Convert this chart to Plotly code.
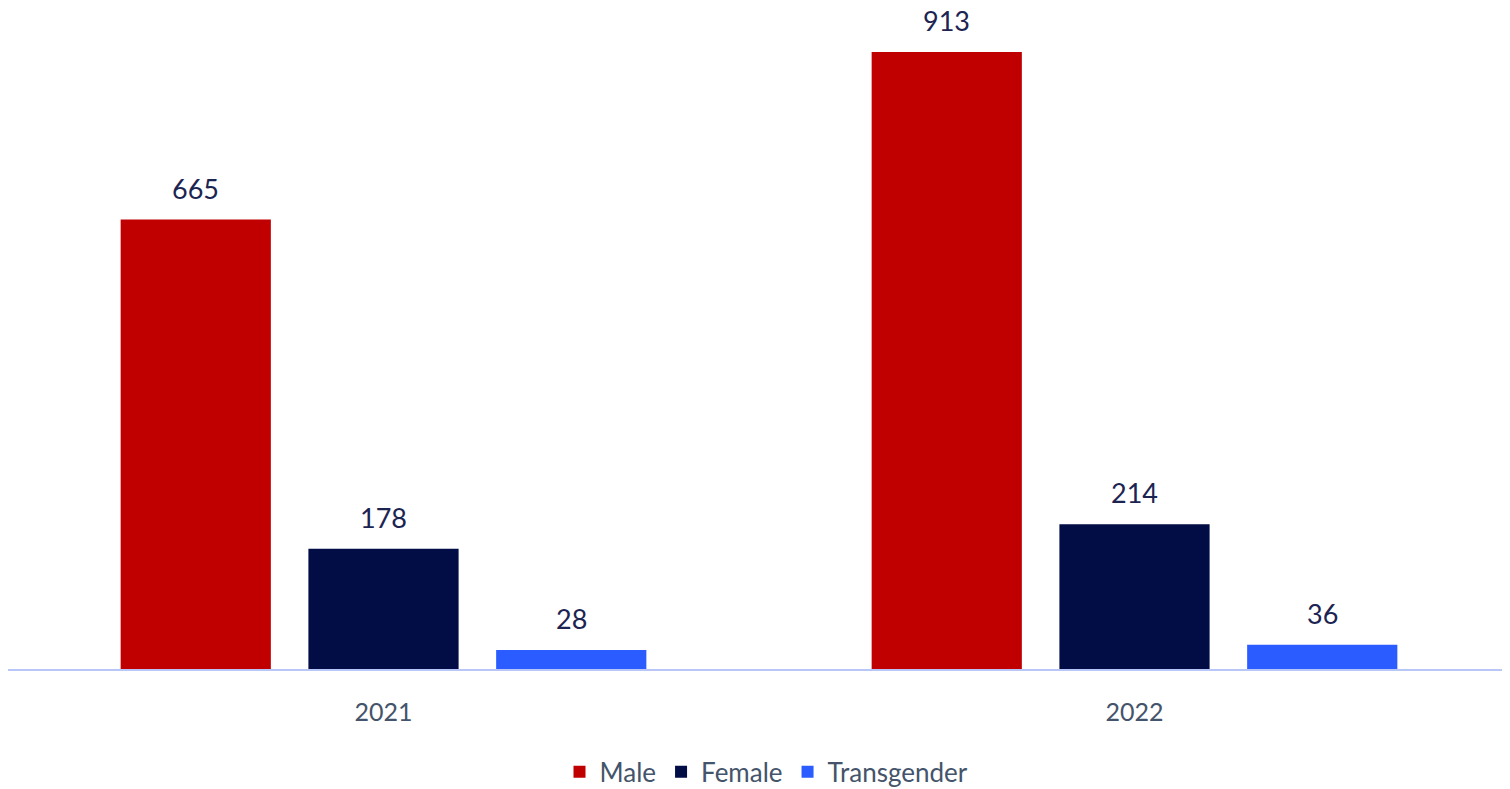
import plotly.graph_objects as go

years = ["2021", "2022"]
series = ["Male", "Female", "Transgender"]
male = [665, 913]
female = [178, 214]
transgender = [28, 36]
colors = ["#c00000", "#020c45", "#2a5cff"]

values = [male, female, transgender]
fig = go.Figure()
for name, vals, col in zip(series, values, colors):
    fig.add_trace(go.Bar(x=years, y=vals, name=name, marker=dict(color=col, line=dict(width=0))))

shifts = [-188, 0, 188]
for vals, sh in zip(values, shifts):
    for idx, v in enumerate(vals):
        fig.add_annotation(x=idx, y=v, text=str(v), showarrow=False, xshift=sh, yshift=13,
                           yanchor="bottom", font=dict(size=27, color="#1c2452", family="Lato"))

fig.update_layout(
    width=1502, height=781,
    margin=dict(l=0, r=0, t=0, b=120, autoexpand=False),
    paper_bgcolor="white", plot_bgcolor="white",
    barmode="group", bargap=0.25, bargroupgap=0.2,
    font=dict(family="Lato", color="#44546a"),
    xaxis=dict(type="category", range=[-0.5, 1.5], autorange=False, showline=True,
               linecolor="#b8c6f8", linewidth=2,
               ticks="outside", ticklen=20, tickcolor="rgba(0,0,0,0)", showgrid=False,
               tickfont=dict(size=25, color="#44546a")),
    yaxis=dict(range=[0, 978], autorange=False, visible=False, showgrid=False),
    legend=dict(orientation="h", x=0.505, xanchor="center", y=-0.12, yanchor="top",
                font=dict(size=26, color="#44546a"), traceorder="normal"),
    showlegend=True,
)
fig.write_html("out.html")
